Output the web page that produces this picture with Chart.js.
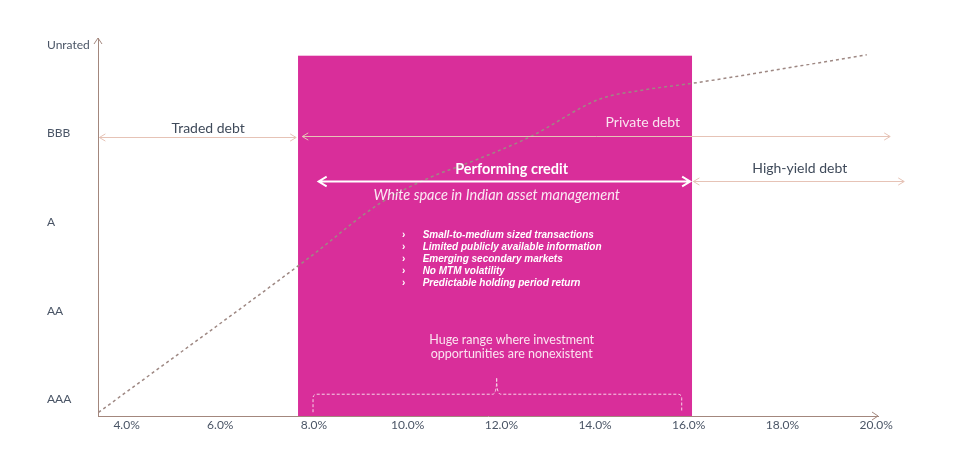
<!DOCTYPE html>
<html>
<head>
<meta charset="utf-8">
<script src="https://cdn.jsdelivr.net/npm/chart.js@4.4.1/dist/chart.umd.min.js"></script>
<style>
  html, body { margin: 0; padding: 0; background: #fff; }
  #wrap { width: 955px; height: 457px; }
</style>
</head>
<body>
<div id="wrap"><canvas id="chart"></canvas></div>
<script>
// ratings on the y axis, bottom to top
const ratingLabels = ["AAA", "AA", "A", "BBB", "Unrated"];
const yieldTicks = [4, 6, 8, 10, 12, 14, 16, 18, 20];

// risk/return curve (yield %, rating index)
const curveYield = [3.4, 7.9, 9.4, 10.5, 11.3, 12.6, 14.1, 15.0, 16.1, 19.8];
const curveRating = [-0.15, 1.6, 2.21, 2.51, 2.67, 2.96, 3.39, 3.49, 3.57, 3.89];

// performing credit band
const bandYield = [7.66, 16.07];
const bandTop = 3.88;

const bullets = [
    "Small-to-medium sized transactions",
    "Limited publicly available information",
    "Emerging secondary markets",
    "No MTM volatility",
    "Predictable holding period return",
];

const PEACH = "#e6c3b6";
const AXIS = "#a3877d";
const INK = "#3f4a5a";

// segments drawn over the chart, in data units
const arrows = [
    { from: 3.42, to: 7.62, y: 2.96, color: PEACH, width: 1, head: 6 },
    { from: 7.75, to: 20.3, y: 2.97, color: PEACH, width: 1, head: 6 },
    { from: 8.1, to: 16.03, y: 2.46, color: "#ffffff", width: 2, head: 8 },
    { from: 16.1, to: 20.6, y: 2.46, color: PEACH, width: 1, head: 6 },
];

const labels = [
    { text: "Traded debt", x: 5.74, y: 3.06, font: "14px Lato", color: INK },
    { text: "Private debt", x: 15.02, y: 3.13, font: "14px Lato", color: "#f9e3ef" },
    { text: "Performing credit", x: 12.22, y: 2.6, font: "bold 14.5px Lato", color: "#ffffff" },
    { text: "High-yield debt", x: 18.37, y: 2.61, font: "14px Lato", color: INK },
    { text: "White space in Indian asset management", x: 11.9, y: 2.3, font: "italic 14.5px Lato", color: "#fbe9f3" },
    { text: "Huge range where investment", x: 12.22, y: 0.667, font: "12.5px Lato", color: "#fbe4f0" },
    { text: "opportunities are nonexistent", x: 12.22, y: 0.508, font: "12.5px Lato", color: "#fbe4f0" },
];

function drawArrow(ctx, x1, x2, y, a) {
    ctx.strokeStyle = a.color;
    ctx.lineWidth = a.width;
    ctx.beginPath();
    ctx.moveTo(x1, y);
    ctx.lineTo(x2, y);
    ctx.moveTo(x1 + a.head, y - a.head * 0.6);
    ctx.lineTo(x1, y);
    ctx.lineTo(x1 + a.head, y + a.head * 0.6);
    ctx.moveTo(x2 - a.head, y - a.head * 0.6);
    ctx.lineTo(x2, y);
    ctx.lineTo(x2 - a.head, y + a.head * 0.6);
    ctx.stroke();
}

const overlay = {
    id: "overlay",
    beforeDraw(chart) {
        const { ctx, scales: { x, y }, chartArea } = chart;
        const l = x.getPixelForValue(bandYield[0]);
        const r = x.getPixelForValue(bandYield[1]);
        const t = y.getPixelForValue(bandTop);
        ctx.save();
        ctx.fillStyle = "#d92e9a";
        ctx.fillRect(l, t, r - l, chartArea.bottom - t);
        ctx.restore();
    },
    afterDatasetsDraw(chart) {
        const { ctx, scales: { x, y } } = chart;
        ctx.save();
        arrows.forEach(a => {
            drawArrow(ctx, x.getPixelForValue(a.from), x.getPixelForValue(a.to), Math.round(y.getPixelForValue(a.y)) + 0.5, a);
        });

        ctx.textAlign = "center";
        ctx.textBaseline = "middle";
        labels.forEach(t => {
            ctx.font = t.font;
            ctx.fillStyle = t.color;
            ctx.fillText(t.text, x.getPixelForValue(t.x), y.getPixelForValue(t.y));
        });

        // bullet list
        ctx.textAlign = "left";
        ctx.fillStyle = "#ffffff";
        bullets.forEach((b, i) => {
            const py = y.getPixelForValue(1.853 - i * 0.137);
            ctx.font = "bold 10px 'Liberation Sans'";
            ctx.fillText("\u203A", x.getPixelForValue(9.88), py);
            ctx.font = "italic bold 10px 'Liberation Sans'";
            ctx.fillText(b, x.getPixelForValue(10.32), py);
        });

        // dashed brace under the band
        const bl = x.getPixelForValue(7.98), br = x.getPixelForValue(15.85), bm = x.getPixelForValue(11.9);
        const yb = y.getPixelForValue(-0.147), yh = y.getPixelForValue(0.056), yp = y.getPixelForValue(0.237);
        ctx.strokeStyle = "#f6d6e8";
        ctx.lineWidth = 1;
        ctx.setLineDash([3, 2]);
        ctx.beginPath();
        ctx.moveTo(bl, yb);
        ctx.lineTo(bl, yh + 4);
        ctx.quadraticCurveTo(bl, yh, bl + 4, yh);
        ctx.lineTo(bm - 4, yh);
        ctx.quadraticCurveTo(bm, yh, bm, yp);
        ctx.moveTo(bm, yp);
        ctx.quadraticCurveTo(bm, yh, bm + 4, yh);
        ctx.lineTo(br - 4, yh);
        ctx.quadraticCurveTo(br, yh, br, yh + 4);
        ctx.lineTo(br, yb);
        ctx.stroke();
        ctx.restore();
    },
    afterDraw(chart) {
        const { ctx, chartArea: { left, top, right, bottom } } = chart;
        ctx.save();
        ctx.strokeStyle = AXIS;
        ctx.lineWidth = 1;
        ctx.beginPath();
        ctx.moveTo(left - 4, top + 6);
        ctx.lineTo(left, top);
        ctx.lineTo(left + 4, top + 6);
        ctx.moveTo(right - 6, bottom - 4);
        ctx.lineTo(right, bottom);
        ctx.lineTo(right - 6, bottom + 4);
        ctx.stroke();
        ctx.restore();
    },
};

new Chart(document.getElementById("chart"), {
    type: "line",
    plugins: [overlay],
    options: {
        responsive: true,
        maintainAspectRatio: false,
        animation: false,
        layout: {
            padding: { left: 47, right: 77, top: 38, bottom: 0 },
        },
        scales: {
            x: {
                type: "linear",
                min: 3.39,
                max: 20.04,
                afterBuildTicks: s => { s.ticks = yieldTicks.map(v => ({ value: v })); },
                afterFit: s => { s.height = 41; },
                grid: { display: false, drawTicks: false },
                border: { display: true, color: AXIS, width: 1 },
                ticks: {
                    padding: 2,
                    color: "#4a5566",
                    font: { family: "Lato", size: 12 },
                    callback: v => v.toFixed(1) + "%",
                },
            },
            y: {
                type: "linear",
                min: -0.19,
                max: 4.08,
                afterBuildTicks: s => { s.ticks = ratingLabels.map((_, i) => ({ value: i })); },
                afterFit: s => { s.width = 51; },
                grid: { display: false, drawTicks: false },
                border: { display: true, color: AXIS, width: 1 },
                ticks: {
                    crossAlign: "far",
                    color: "#4a5566",
                    font: { family: "Lato", size: 12 },
                    callback: v => ratingLabels[v],
                },
            },
        },
        plugins: {
            legend: { display: false },
            tooltip: { enabled: false },
        },
    },
    data: {
        datasets: [
            {
                label: "Risk / return",
                data: curveYield.map((v, i) => ({ x: v, y: curveRating[i] })),
                borderColor: "#9e8883",
                borderWidth: 1.5,
                borderDash: [3, 3],
                pointRadius: 0,
                cubicInterpolationMode: "monotone",
                clip: false,
            },
        ],
    },
});
</script>
</body>
</html>
